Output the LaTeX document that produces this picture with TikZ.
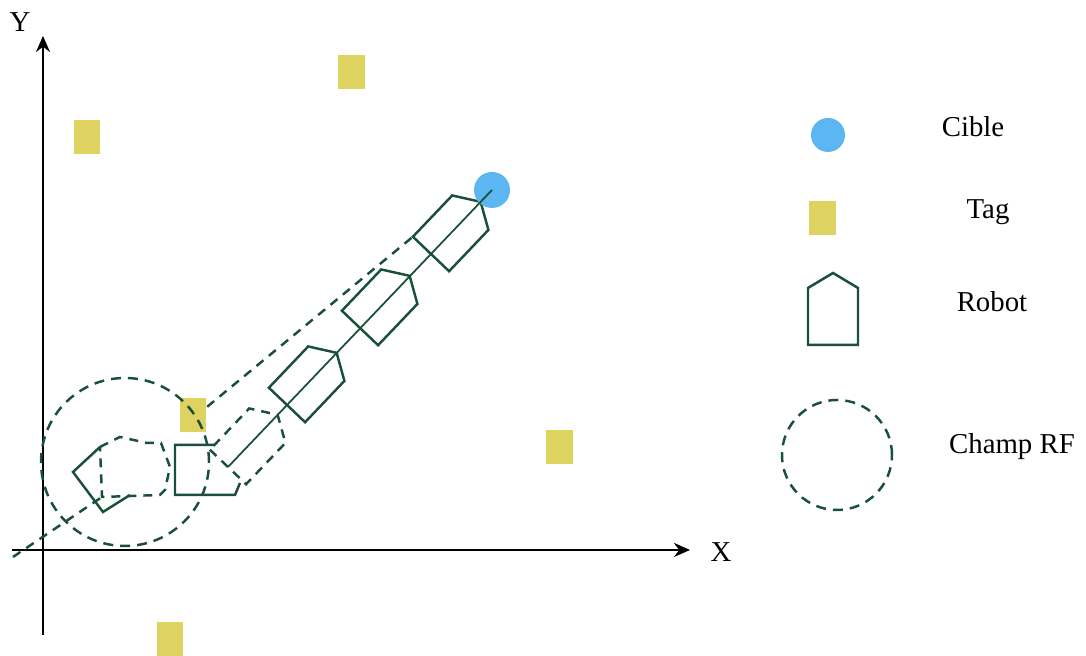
\documentclass[tikz,border=0pt]{standalone}
\usepackage{fontspec}
\setmainfont{Liberation Serif}
\usepackage{xcolor}
\usetikzlibrary{arrows.meta}

\definecolor{trait}{RGB}{25,80,55}
\definecolor{tagfill}{RGB}{222,210,96}
\definecolor{cibfill}{RGB}{92,182,242}

\begin{document}
\begin{tikzpicture}[x=0.1mm,y=0.1mm,
  tag/.style={rectangle,fill=tagfill,minimum width=2.7mm,minimum height=3.4mm,inner sep=0pt},
  cible/.style={circle,fill=cibfill,inner sep=0pt},
  champ/.style={circle,draw=trait,line width=0.7pt,dash pattern=on 1mm off 0.7mm,inner sep=0pt},
  rob/.style={draw=trait,line width=0.7pt},
  pointille/.style={draw=trait,line width=0.7pt,dash pattern=on 0.9mm off 0.7mm},
  axe/.style={-{Stealth[length=1.6mm,width=1.4mm]},line width=0.7pt},
  lbl/.style={font=\fontsize{8.2}{10}\selectfont,inner sep=0pt},
  robot/.pic={
    \draw[rob] (-25,0) -- (25,0) -- (25,57) -- (0,72) -- (-25,57) -- cycle;
    \coordinate (-bg) at (-25,0);
    \coordinate (-ar) at (0,0);
  }
]
\useasboundingbox (0,0) rectangle (1086,656);
% Axes
\coordinate (ybas) at (43,21);
\coordinate (yhaut) at (43,620);
\coordinate (xgauche) at (12,106);
\coordinate (xdroite) at (690,106);
\draw[axe] (ybas) -- (yhaut);
\draw[axe] (xgauche) -- (xdroite);
\node[lbl] (ly) at (20,634) {Y};
\node[lbl] (lx) at (721,104) {X};
% Tags
\node[tag] (t1) at (87,519) {};
\node[tag] (t2) at (352,584) {};
\node[tag] (t3) at (193,241) {};
\node[tag] (t4) at (560,209) {};
\node[tag] (t5) at (170,17) {};
% Champ RF
\node[champ,minimum size=16.8mm] (champ) at (125,194) {};
% Robot de depart
\draw[rob] (100,209) -- (73,184) -- (103,144) -- (130,161);
\draw[pointille] (100,209) -- (120,219) -- (147,213) -- (161,213) -- (170,189)
    -- (165,166) -- (160,161) -- (102,159) -- cycle;
\draw[rob] (215,211) -- (175,211) -- (175,161) -- (235,161) -- (240,173);
\coordinate (bas) at (13,99);
\coordinate (ra) at (102,159);
\draw[pointille] (bas) -- (ra);
% Trajectoire
\pic[rotate=-43.6,dash pattern=on 0.9mm off 0.7mm] (robC) at (228,189) {robot};
\pic[rotate=-43.6] (robD) at (287,251) {robot};
\pic[rotate=-43.6] (robE) at (360,328) {robot};
\pic[rotate=-43.6] (robF) at (431,402) {robot};
\node[cible,minimum size=3.6mm] (cib) at (492,466) {};
\draw[trait,line width=0.5pt] (robC-ar) -- (cib.center);
\draw[pointille] (t3.30) -- (robF-bg);
% Legende
\node[cible,minimum size=3.4mm] (lgcib) at (828,521) {};
\node[tag] (lgtag) at (823,438) {};
\pic (lgrob) at (833,311) {robot};
\node[champ,minimum size=11mm] (lgchamp) at (837,201) {};
\node[lbl] (lcible) at (973,529) {Cible};
\node[lbl] (ltag) at (988,444) {Tag};
\node[lbl] (lrobot) at (992,354) {Robot};
\node[lbl] (lchamp) at (1012,209) {Champ RF};
\end{tikzpicture}
\end{document}
